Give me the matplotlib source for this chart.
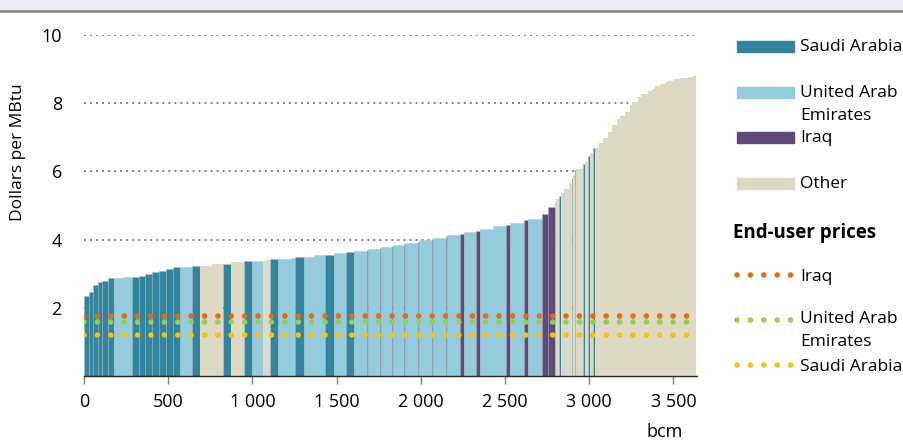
import numpy as np
import matplotlib.pyplot as plt
from matplotlib.patches import Rectangle
from matplotlib.lines import Line2D

plt.rcParams['font.family'] = ['Open Sans', 'DejaVu Sans']

# supply cost curve: volume of each field group (bcm), cost (USD/MBtu), producer
volumes = [31, 24, 30, 24, 34, 36, 55, 53, 38, 37,
           40, 43, 40, 42, 43, 71, 45, 73, 65, 46,
           83, 46, 63, 20, 20, 49, 77, 24, 52, 63,
           65, 53, 69, 50, 75, 5, 71, 6, 65, 6,
           71, 6, 73, 5, 77, 9, 74, 10, 77, 20,
           75, 20, 79, 77, 24, 81, 26, 83, 36, 40,
           10, 18, 10, 16, 8, 22, 16, 8, 10, 10,
           40, 10, 20, 10, 20, 10, 27, 24, 26, 26,
           28, 20, 26, 30, 16, 34, 20, 40, 20, 20,
           30, 30, 20, 30, 39, 50, 30, 16]
costs = [2.34, 2.47, 2.67, 2.75, 2.80, 2.86, 2.86, 2.89, 2.89, 2.93,
         2.98, 3.04, 3.08, 3.13, 3.19, 3.19, 3.23, 3.24, 3.28, 3.28,
         3.33, 3.36, 3.36, 3.38, 3.41, 3.42, 3.43, 3.47, 3.50, 3.50,
         3.54, 3.56, 3.61, 3.63, 3.67, 3.70, 3.73, 3.76, 3.78, 3.80,
         3.85, 3.87, 3.90, 3.94, 3.98, 4.02, 4.06, 4.10, 4.13, 4.16,
         4.21, 4.25, 4.30, 4.40, 4.42, 4.50, 4.57, 4.60, 4.75, 4.95,
         5.10, 5.18, 5.28, 5.38, 5.47, 5.49, 5.67, 5.82, 5.90, 6.04,
         6.06, 6.23, 6.28, 6.45, 6.55, 6.68, 6.70, 6.82, 6.99, 7.16,
         7.36, 7.53, 7.63, 7.75, 7.96, 8.04, 8.19, 8.26, 8.36, 8.42,
         8.50, 8.56, 8.61, 8.66, 8.70, 8.73, 8.76, 8.80]
producers = ['S', 'S', 'S', 'S', 'S', 'S', 'U', 'U', 'S', 'S',
             'S', 'S', 'S', 'S', 'S', 'U', 'S', 'O', 'O', 'S',
             'O', 'S', 'U', 'O', 'O', 'S', 'U', 'U', 'S', 'U',
             'U', 'S', 'U', 'S', 'U', 'I', 'U', 'I', 'U', 'I',
             'U', 'I', 'U', 'I', 'U', 'I', 'U', 'I', 'U', 'I',
             'U', 'I', 'U', 'U', 'I', 'U', 'I', 'U', 'I', 'I',
             'U', 'O', 'S', 'O', 'U', 'O', 'O', 'S', 'O', 'S',
             'O', 'S', 'O', 'S', 'O', 'S', 'O', 'O', 'O', 'O',
             'O', 'O', 'O', 'O', 'O', 'O', 'O', 'O', 'O', 'O',
             'O', 'O', 'O', 'O', 'O', 'O', 'O', 'O']

producer_names = {'S': 'Saudi Arabia', 'U': 'United Arab\nEmirates', 'I': 'Iraq', 'O': 'Other'}
producer_colors = {'S': '#31859c', 'U': '#93cddd', 'I': '#604a7b', 'O': '#ddd9c3'}

# end-user prices (USD/MBtu)
price_names = ['Iraq', 'United Arab\nEmirates', 'Saudi Arabia']
end_user_prices = [1.75, 1.59, 1.19]
price_colors = ['#e46c0a', '#92d050', '#ffc000']

xticks = [0, 500, 1000, 1500, 2000, 2500, 3000, 3500]
yticks = [2, 4, 6, 8, 10]

fig = plt.figure(figsize=(9.04, 4.41), dpi=100)
W, H = 904, 441

# header band
fig.patches.append(Rectangle((0, 1 - 10 / H), 1, 10 / H, transform=fig.transFigure,
                             color='#eeebf4', zorder=0))
fig.lines.append(Line2D([0, 1], [1 - 11 / H, 1 - 11 / H], transform=fig.transFigure,
                        color='#8c8c8c', lw=2))

ax = fig.add_axes([84 / W, 1 - 376 / H, 613 / W, 341 / H])

left = np.concatenate([[0], np.cumsum(volumes)[:-1]])
end = float(np.sum(volumes))
colors = [producer_colors[p] for p in producers]
# thin light edges between the bars, none on the "Other" bars
edges = [(0.66, 0.71, 0.76, 0.0 if p == 'O' else 0.45) for p in producers]
ax.bar(left, costs, width=volumes, align='edge', color=colors,
       edgecolor=edges, linewidth=0.5, zorder=2)

# gridlines
for y in yticks:
    ax.plot([0, end], [y, y], color='#7f7f7f', lw=1.4, ls=(0, (1, 2.1)), zorder=1)

# end-user price lines
for price, c in zip(end_user_prices, price_colors):
    ax.plot([0, end], [price, price], color=c, lw=4, ls=(0, (0.01, 2.4)),
            dash_capstyle='round', zorder=3)

ax.set_xlim(0, 3640)
ax.set_ylim(0, 10)
ax.set_yticks(yticks)
ax.set_yticklabels([str(y) for y in yticks], fontsize=13)
ax.tick_params(axis='y', length=0, pad=16)
ax.set_xticks(xticks)
ax.set_xticklabels([f"{v:,}".replace(',', ' ') for v in xticks], fontsize=13)
ax.tick_params(axis='x', length=6, color='#7f7f7f', width=1, pad=6)
for s in ['top', 'right', 'left']:
    ax.spines[s].set_visible(False)
ax.spines['bottom'].set_color('#262626')
ax.spines['bottom'].set_linewidth(1)

fig.text(18 / W, 1 - 152 / H, 'Dollars per MBtu', rotation=90, ha='center', va='center', fontsize=12.5)
fig.text(665 / W, 1 - 432 / H, 'bcm', ha='center', va='center', fontsize=13)

# legend: producers
rect_x, rect_w, rect_h = 737 / W, 57 / W, 11 / H
text_x = 800 / W
legend_y = {'S': 46, 'U': 92, 'I': 137, 'O': 183}
for key in ['S', 'U', 'I', 'O']:
    yc = 1 - legend_y[key] / H
    fig.patches.append(Rectangle((rect_x, yc - rect_h / 2), rect_w, rect_h,
                                 transform=fig.transFigure, color=producer_colors[key]))
    if '\n' in producer_names[key]:
        fig.text(text_x, yc + 7 / H, producer_names[key], ha='left', va='top',
                 fontsize=12.5, linespacing=1.6)
    else:
        fig.text(text_x, yc - 1 / H, producer_names[key], ha='left', va='center', fontsize=12.5)

fig.text(733 / W, 1 - 233 / H, 'End-user prices', ha='left', va='center',
         fontsize=13.5, fontweight='bold')

price_y = [275, 320, 365]
for name, c, yp in zip(price_names, price_colors, price_y):
    yc = 1 - yp / H
    fig.lines.append(Line2D([737 / W, 793 / W], [yc, yc], transform=fig.transFigure,
                            color=c, lw=4, ls=(0, (0.01, 2.4)), dash_capstyle='round'))
    if '\n' in name:
        fig.text(text_x, yc + 9 / H, name, ha='left', va='top', fontsize=12.5, linespacing=1.6)
    else:
        fig.text(text_x, yc - 2 / H, name, ha='left', va='center', fontsize=12.5)

fig.savefig('out.png', dpi=100)
